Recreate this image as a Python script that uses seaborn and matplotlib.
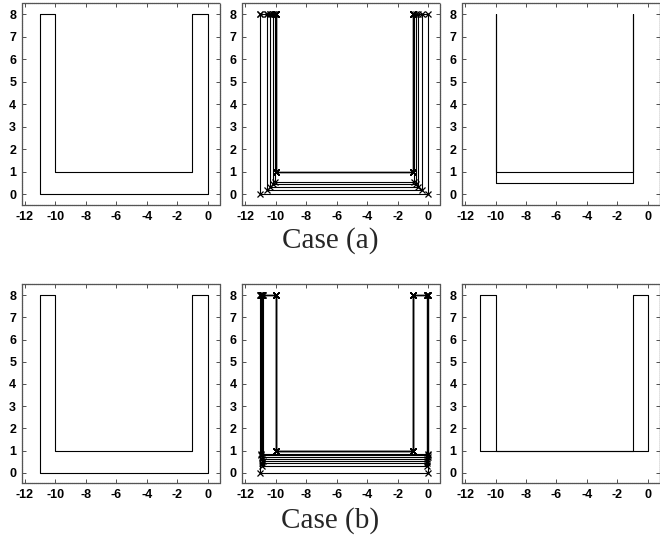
"""Recreates the two-case U-channel iteration figure."""

import numpy as np
import pandas as pd
import matplotlib
from matplotlib import pyplot as plt
import seaborn as sns

matplotlib.use("Agg")

# fixed inner boundary of the channel and its height
INNER_LEFT = -10.0
INNER_RIGHT = -1.0
INNER_BOTTOM = 1.0
TOP = 8.0

# starting outer boundary (left, right, bottom)
START = (-11.0, 0.0, 0.0)

# case (a): outer boundary iterates, all three sides move
case_a_left = [-11.0, -10.6, -10.35, -10.2, -10.05]
case_a_right = [0.0, -0.4, -0.65, -0.8, -0.95]
case_a_bottom = [0.0, 0.2, 0.35, 0.45, 0.55]
case_a_final = (-10.0, -1.0, 0.5)

# case (b): only the bottom moves, the sides stay near the start
case_b_left = [-11.0, -10.92, -10.88, -10.86, -10.9, -10.93, -10.95, -10.97]
case_b_right = [0.0, -0.05, -0.08, -0.06, -0.04, -0.03, -0.02, -0.01]
case_b_bottom = [0.0, 0.3, 0.42, 0.54, 0.62, 0.69, 0.78, 0.86]
case_b_final = (-11.0, 0.0, 1.0)

X_TICKS = [-12, -10, -8, -6, -4, -2, 0]
Y_TICKS = [0, 1, 2, 3, 4, 5, 6, 7, 8]


def _channel(left, right, bottom, unit=0):
    """Vertices of the closed region between the outer and inner U."""
    xs = [left, left, right, right, INNER_RIGHT, INNER_RIGHT, INNER_LEFT, INNER_LEFT, left]
    ys = [TOP, bottom, bottom, TOP, TOP, INNER_BOTTOM, INNER_BOTTOM, TOP, TOP]
    return pd.DataFrame({"x": xs, "y": ys, "unit": unit})


def _draw(ax, frames, marker=None):
    data = pd.concat(frames, ignore_index=True)
    kws = {}
    if marker:
        kws = dict(marker=marker, markersize=5, markeredgewidth=0.9,
                   markeredgecolor="black", markerfacecolor="black")
    sns.lineplot(
        data=data, x="x", y="y", units="unit", estimator=None, sort=False,
        color="black", linewidth=0.8, ax=ax, legend=False, **kws,
    )


def _format(ax):
    ax.set_xlim(-12.2, 0.8)
    ax.set_ylim(-0.47, 8.5)
    ax.set_xticks(X_TICKS)
    ax.set_yticks(Y_TICKS)
    ax.set_xlabel("")
    ax.set_ylabel("")
    ax.tick_params(direction="in", top=True, right=True, length=3, width=0.6,
                   labelsize=9, pad=4, colors="#333333", labelcolor="black")
    for label in ax.get_xticklabels() + ax.get_yticklabels():
        label.set_fontweight("bold")
    for spine in ax.spines.values():
        spine.set_color("#555555")
        spine.set_linewidth(0.9)
        spine.set_linestyle((0, (1, 0.6)))


sns.set_style("ticks")
plt.rcParams["font.family"] = ["Liberation Sans", "DejaVu Sans"]
plt.rcParams["axes.unicode_minus"] = False

fig = plt.figure(figsize=(6.6, 5.38), dpi=100)
lefts = [0.033, 0.367, 0.700]
rows = [(0.619, 0.375, case_a_left, case_a_right, case_a_bottom, case_a_final),
        (0.102, 0.370, case_b_left, case_b_right, case_b_bottom, case_b_final)]

for bottom, height, ls, rs, bs, final in rows:
    axes = [fig.add_axes([lx, bottom, 0.30, height]) for lx in lefts]
    _draw(axes[0], [_channel(*START)])
    _draw(axes[1], [_channel(l, r, b, i) for i, (l, r, b) in enumerate(zip(ls, rs, bs))]
          + [_channel(INNER_LEFT, INNER_RIGHT, INNER_BOTTOM, len(ls))], marker="x")
    _draw(axes[2], [_channel(*final)])
    for ax in axes:
        _format(ax)

fig.text(0.5, 0.552, "Case (a)", ha="center", va="center", fontsize=21,
         family=["Liberation Serif", "DejaVu Serif"])
fig.text(0.5, 0.033, "Case (b)", ha="center", va="center", fontsize=21,
         family=["Liberation Serif", "DejaVu Serif"])

fig.savefig("out.png", dpi=100)
